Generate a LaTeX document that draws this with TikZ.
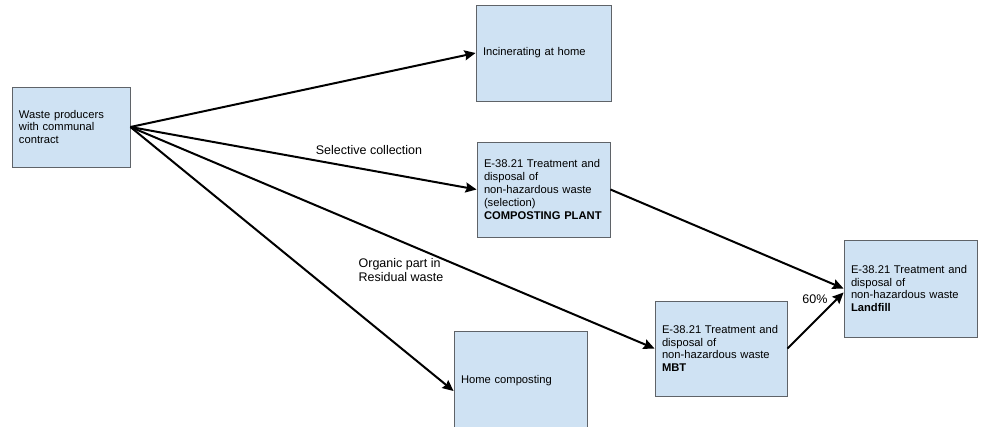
\documentclass[tikz,border=0pt]{standalone}
\usepackage{fontspec}
\setmainfont{Liberation Sans}
\usetikzlibrary{arrows.meta}

\definecolor{boxfill}{HTML}{CFE2F3}
\definecolor{boxline}{HTML}{5F6368}

\tikzset{
  wbox/.style={draw=boxline, line width=0.9pt, fill=boxfill, rectangle,
    align=left, inner xsep=7pt, inner ysep=0pt,
    font=\fontsize{11.2}{12.8}\selectfont},
  flow/.style={line width=2pt, -{Stealth[length=11pt,width=10pt,inset=1.5pt]}},
  lbl/.style={font=\fontsize{12.5}{14}\selectfont, align=left, inner sep=0pt}
}

\begin{document}
\begin{tikzpicture}[x=1pt, y=-1pt]
  \useasboundingbox (0,0) rectangle (983,427);
  \clip (0,0) rectangle (983,427);

  % sources and destinations
  \node[wbox, text width=104pt, minimum height=80pt] (waste) at (71,127)
    {Waste producers\\with communal\\contract};
  \node[wbox, text width=121pt, minimum height=96pt] (inc) at (543.5,53)
    {Incinerating at home};
  \node[wbox, text width=119pt, minimum height=95pt] (comp) at (543.5,189.5)
    {E-38.21 Treatment and\\disposal of\\non-hazardous waste\\(selection)\\\textbf{COMPOSTING PLANT}};
  \node[wbox, text width=119pt, minimum height=100pt] (home) at (520.5,381)
    {Home composting};
  \node[wbox, text width=118pt, minimum height=95pt] (mbt) at (721,348.5)
    {E-38.21 Treatment and\\disposal of\\non-hazardous waste\\\textbf{MBT}};
  \node[wbox, text width=119pt, minimum height=97pt] (land) at (910.5,288.5)
    {E-38.21 Treatment and\\disposal of\\non-hazardous waste\\\textbf{Landfill}};

  % flows
  \draw[flow] (waste.east) -- (inc.west);
  \draw[flow] (waste.east) -- (comp.west);
  \draw[flow] (waste.east) -- ([yshift=-10pt]home.west);
  \draw[flow] (waste.east) -- (mbt.west);
  \draw[flow] (comp.east) -- (land.west);
  \draw[flow] (mbt.east) -- ([yshift=-4pt]land.west);

  % flow labels
  \node[lbl] (sel) at (369,150) {Selective collection};
  \node[lbl] (org) at (401,270) {Organic part in\\Residual waste};
  \node[lbl] (pct) at (815,299) {60\%};
\end{tikzpicture}
\end{document}
